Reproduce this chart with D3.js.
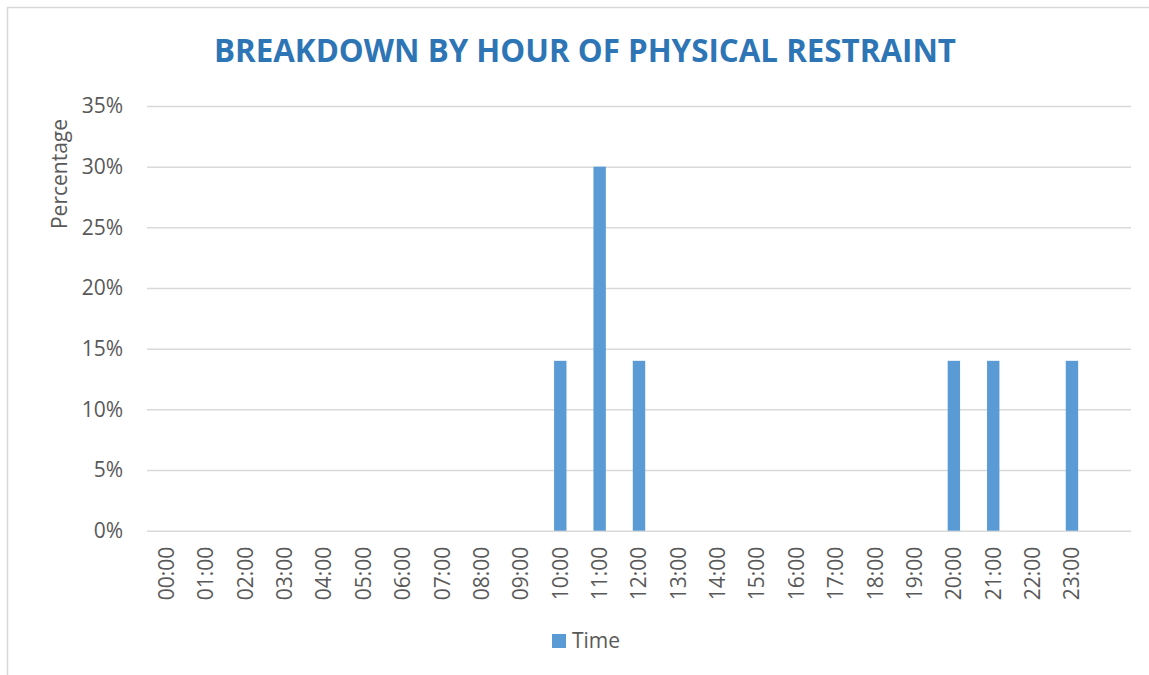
<!DOCTYPE html>
<html>
<head>
<meta charset="utf-8">
<script src="https://cdn.jsdelivr.net/npm/d3@7"></script>
<style>
  body { margin: 0; background: #fff; }
  text { font-family: "Open Sans", sans-serif; }
</style>
</head>
<body>
<div id="chart"></div>
<script>
const width = 1149;
const height = 675;

// hours, plus the trailing blank category the sheet left in
const hours = ['00:00', '01:00', '02:00', '03:00', '04:00', '05:00', '06:00', '07:00',
  '08:00', '09:00', '10:00', '11:00', '12:00', '13:00', '14:00', '15:00', '16:00',
  '17:00', '18:00', '19:00', '20:00', '21:00', '22:00', '23:00', ''];
const shares = [0, 0, 0, 0, 0, 0, 0, 0, 0, 0, 0.14, 0.30, 0.14, 0, 0, 0, 0, 0, 0, 0,
  0.14, 0.14, 0, 0.14, 0];
const yTicks = [0, 0.05, 0.10, 0.15, 0.20, 0.25, 0.30, 0.35];

const plot = { left: 147, right: 1131, top: 106, bottom: 530.7 };
const barColor = '#5B9BD5';
const textColor = '#595959';

const svg = d3.select('#chart').append('svg')
  .attr('width', width)
  .attr('height', height);

// chart border
svg.append('rect')
  .attr('x', 7.5)
  .attr('y', 7.5)
  .attr('width', width + 10)
  .attr('height', height + 10)
  .attr('fill', '#fff')
  .attr('stroke', '#d9d9d9')
  .attr('stroke-width', 1.5);

const x = d3.scaleBand()
  .domain(hours)
  .range([plot.left, plot.right])
  .paddingInner(0.685)
  .paddingOuter(0.3425);

const y = d3.scaleLinear()
  .domain([0, 0.35])
  .range([plot.bottom, plot.top]);

// gridlines + y labels
const yAxis = svg.append('g')
  .attr('transform', `translate(${plot.left},0)`)
  .call(d3.axisLeft(y).tickValues(yTicks).tickFormat(d3.format('.0%'))
    .tickSize(-(plot.right - plot.left)).tickPadding(24));
yAxis.select('.domain').remove();
yAxis.selectAll('line').attr('stroke', '#d9d9d9').attr('stroke-width', 1.5);
yAxis.selectAll('text')
  .attr('fill', textColor)
  .style('font-size', '21px')
  .style('font-family', '"Open Sans", sans-serif');

// bars
svg.append('g').selectAll('rect')
  .data(hours.map((h, i) => ({ h, v: shares[i] })).filter(d => d.v > 0))
  .enter()
  .append('rect')
  .attr('x', d => x(d.h))
  .attr('y', d => y(d.v))
  .attr('width', x.bandwidth())
  .attr('height', d => y(0) - y(d.v))
  .attr('fill', barColor);

// x labels, rotated
const xAxis = svg.append('g')
  .attr('transform', `translate(0,${plot.bottom})`)
  .call(d3.axisBottom(x).tickSize(0).tickPadding(0));
xAxis.select('.domain').remove();
xAxis.selectAll('text')
  .attr('fill', textColor)
  .style('font-size', '21px')
  .style('font-family', '"Open Sans", sans-serif')
  .attr('transform', 'rotate(-90)')
  .attr('x', -16)
  .attr('y', 0)
  .attr('dy', '0.35em')
  .attr('text-anchor', 'end');

// title
svg.append('text')
  .attr('x', 585)
  .attr('y', 62)
  .attr('text-anchor', 'middle')
  .attr('fill', '#2E75B6')
  .attr('font-weight', 'bold')
  .attr('font-size', 32)
  .attr('textLength', 742)
  .attr('lengthAdjust', 'spacingAndGlyphs')
  .text('BREAKDOWN BY HOUR OF PHYSICAL RESTRAINT');

// y axis title
svg.append('text')
  .attr('transform', 'translate(67,174) rotate(-90)')
  .attr('text-anchor', 'middle')
  .attr('fill', textColor)
  .attr('font-size', 21)
  .text('Percentage');

// legend
svg.append('rect')
  .attr('x', 552)
  .attr('y', 634)
  .attr('width', 14)
  .attr('height', 14)
  .attr('fill', barColor);
svg.append('text')
  .attr('x', 572)
  .attr('y', 648)
  .attr('fill', textColor)
  .attr('font-size', 21)
  .text('Time');
</script>
</body>
</html>
